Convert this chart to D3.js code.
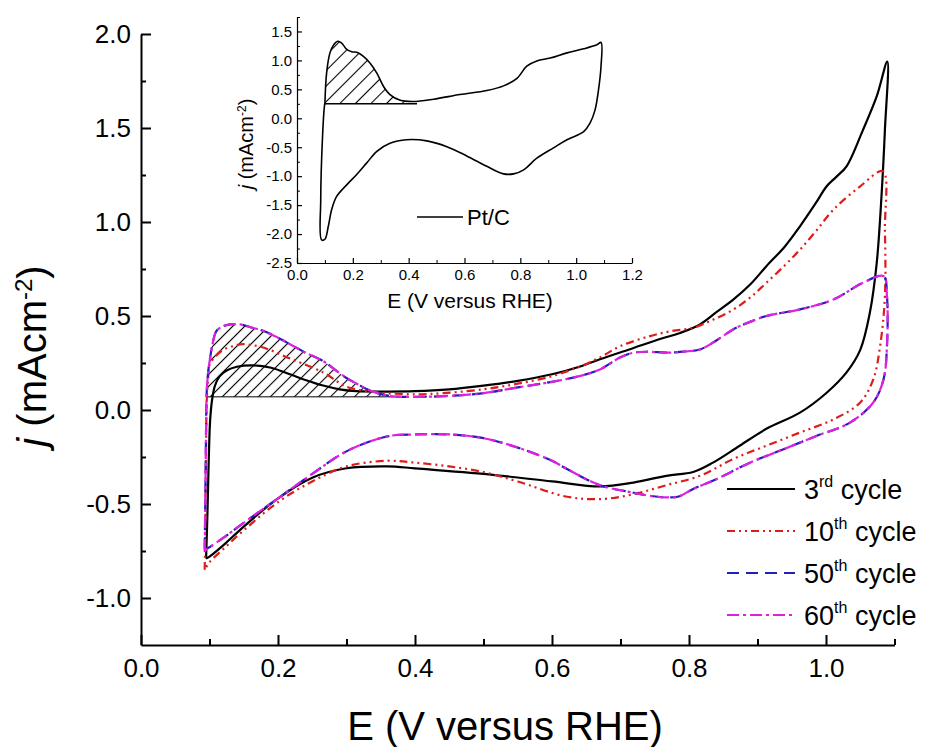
<!DOCTYPE html>
<html lang="en">
<head>
  <meta charset="UTF-8">
  <title>CV cycles</title>
  <script src="https://d3js.org/d3.v7.min.js"></script>
  <style>
    body { margin: 0; background: #fff; }
    text { font-family: "Liberation Sans", Arial, sans-serif; fill: #000; }
  </style>
</head>
<body>
<script>
  // E (V vs RHE), j (mA cm-2) pairs
  const cycle3 = [[0.095,-0.79],[0.097,-0.55],[0.099,-0.25],[0.101,-0.05],[0.104,0.06],[0.108,0.13],[0.115,0.18],[0.125,0.21],[0.14,0.23],[0.164,0.237],[0.19,0.225],[0.2175,0.19],[0.24,0.16],[0.266,0.13],[0.29,0.11],[0.315,0.10],[0.36,0.098],[0.4,0.10],[0.45,0.11],[0.5,0.13],[0.55,0.155],[0.6,0.19],[0.64,0.23],[0.67,0.27],[0.719,0.33],[0.76,0.38],[0.787,0.41],[0.816,0.455],[0.84,0.52],[0.865,0.588],[0.89,0.67],[0.913,0.765],[0.94,0.87],[0.962,0.977],[0.985,1.10],[1.001,1.19],[1.015,1.24],[1.03,1.296],[1.054,1.49],[1.074,1.668],[1.0895,1.853],[1.086,1.49],[1.081,1.137],[1.074,0.78],[1.064,0.517],[1.05,0.32],[1.03,0.20],[1.001,0.092],[0.962,-0.014],[0.913,-0.10],[0.874,-0.19],[0.835,-0.28],[0.806,-0.33],[0.767,-0.35],[0.719,-0.386],[0.67,-0.407],[0.6,-0.38],[0.5,-0.34],[0.4,-0.31],[0.36,-0.30],[0.3,-0.31],[0.25,-0.36],[0.2,-0.47],[0.15,-0.62],[0.12,-0.72],[0.1,-0.78],[0.095,-0.79]];
  const cycle10 = [[0.093,-0.85],[0.094,-0.55],[0.095,-0.2],[0.096,0.05],[0.098,0.17],[0.1,0.24],[0.11,0.29],[0.12,0.32],[0.135,0.34],[0.149,0.35],[0.17,0.34],[0.188,0.32],[0.21,0.285],[0.227,0.26],[0.266,0.20],[0.30,0.124],[0.339,0.096],[0.38,0.085],[0.42,0.085],[0.5,0.11],[0.55,0.14],[0.6,0.18],[0.64,0.23],[0.67,0.28],[0.7,0.34],[0.743,0.393],[0.775,0.42],[0.806,0.437],[0.835,0.48],[0.865,0.535],[0.89,0.60],[0.913,0.677],[0.94,0.77],[0.962,0.853],[0.985,0.95],[1.011,1.066],[1.05,1.19],[1.083,1.27],[1.086,0.96],[1.086,0.605],[1.079,0.34],[1.069,0.163],[1.05,0.04],[1.011,-0.05],[0.962,-0.12],[0.913,-0.19],[0.865,-0.26],[0.816,-0.35],[0.767,-0.40],[0.719,-0.448],[0.67,-0.474],[0.62,-0.46],[0.55,-0.38],[0.5,-0.33],[0.45,-0.30],[0.4,-0.28],[0.36,-0.27],[0.3,-0.30],[0.25,-0.38],[0.2,-0.49],[0.15,-0.64],[0.12,-0.74],[0.1,-0.81],[0.093,-0.85]];
  const cycle50 = [[0.093,-0.74],[0.094,-0.45],[0.095,-0.1],[0.096,0.1],[0.098,0.2],[0.101,0.28],[0.105,0.36],[0.11,0.42],[0.12,0.445],[0.13,0.455],[0.145,0.455],[0.16,0.44],[0.179,0.42],[0.2,0.385],[0.2175,0.35],[0.24,0.305],[0.266,0.26],[0.285,0.21],[0.30,0.17],[0.315,0.14],[0.33,0.11],[0.345,0.09],[0.364,0.074],[0.4,0.07],[0.45,0.075],[0.5,0.09],[0.55,0.12],[0.6,0.15],[0.64,0.18],[0.67,0.216],[0.7,0.28],[0.719,0.305],[0.74,0.31],[0.767,0.305],[0.79,0.31],[0.816,0.322],[0.84,0.37],[0.865,0.43],[0.89,0.47],[0.913,0.50],[0.962,0.535],[1.011,0.588],[1.054,0.677],[1.084,0.712],[1.089,0.605],[1.089,0.34],[1.084,0.163],[1.069,0.04],[1.035,-0.067],[0.986,-0.138],[0.938,-0.209],[0.889,-0.28],[0.84,-0.368],[0.806,-0.42],[0.785,-0.46],[0.767,-0.465],[0.74,-0.455],[0.719,-0.44],[0.67,-0.40],[0.62,-0.31],[0.6,-0.27],[0.55,-0.2],[0.5,-0.15],[0.45,-0.13],[0.4,-0.13],[0.36,-0.14],[0.3,-0.22],[0.25,-0.34],[0.2,-0.47],[0.15,-0.60],[0.12,-0.68],[0.1,-0.73],[0.093,-0.74]];
  const cycle60 = [[0.093,-0.75],[0.094,-0.45],[0.095,-0.1],[0.096,0.1],[0.098,0.2],[0.101,0.28],[0.105,0.36],[0.11,0.42],[0.12,0.445],[0.13,0.455],[0.145,0.455],[0.16,0.44],[0.179,0.42],[0.2,0.385],[0.2175,0.35],[0.24,0.305],[0.266,0.26],[0.285,0.21],[0.30,0.17],[0.315,0.14],[0.33,0.11],[0.345,0.09],[0.364,0.074],[0.4,0.07],[0.45,0.075],[0.5,0.09],[0.55,0.12],[0.6,0.15],[0.64,0.18],[0.67,0.216],[0.7,0.28],[0.719,0.305],[0.74,0.31],[0.767,0.305],[0.79,0.31],[0.816,0.322],[0.84,0.37],[0.865,0.43],[0.89,0.47],[0.913,0.50],[0.962,0.535],[1.011,0.588],[1.054,0.677],[1.084,0.712],[1.089,0.605],[1.089,0.34],[1.084,0.163],[1.069,0.04],[1.035,-0.067],[0.986,-0.138],[0.938,-0.209],[0.889,-0.28],[0.84,-0.368],[0.806,-0.42],[0.785,-0.46],[0.767,-0.465],[0.74,-0.455],[0.719,-0.44],[0.67,-0.40],[0.62,-0.31],[0.6,-0.27],[0.55,-0.2],[0.5,-0.15],[0.45,-0.13],[0.4,-0.13],[0.36,-0.14],[0.3,-0.22],[0.25,-0.34],[0.2,-0.47],[0.15,-0.60],[0.12,-0.68],[0.1,-0.73],[0.093,-0.75]];
  // inset: Pt/C
  const ptc = [[0.1,0.26],[0.106,0.78],[0.118,1.13],[0.13,1.26],[0.146,1.33],[0.16,1.30],[0.178,1.19],[0.196,1.15],[0.214,1.14],[0.238,1.07],[0.262,0.95],[0.286,0.78],[0.31,0.55],[0.333,0.41],[0.37,0.31],[0.417,0.29],[0.489,0.33],[0.584,0.41],[0.68,0.48],[0.74,0.56],[0.788,0.69],[0.823,0.90],[0.859,0.99],[0.907,1.04],[0.967,1.13],[1.027,1.20],[1.074,1.27],[1.089,1.31],[1.089,0.90],[1.08,0.49],[1.068,0.15],[1.05,-0.08],[1.027,-0.23],[0.967,-0.37],[0.919,-0.51],[0.859,-0.69],[0.812,-0.89],[0.776,-0.96],[0.74,-0.96],[0.68,-0.83],[0.608,-0.65],[0.537,-0.49],[0.465,-0.39],[0.393,-0.37],[0.333,-0.43],[0.286,-0.57],[0.25,-0.77],[0.214,-0.97],[0.178,-1.15],[0.142,-1.35],[0.124,-1.58],[0.112,-1.87],[0.10,-2.09],[0.088,-2.10],[0.085,-1.41],[0.092,-0.26],[0.098,0.2],[0.1,0.26]];

  const mainYTicks = [-1.0, -0.5, 0.0, 0.5, 1.0, 1.5, 2.0];
  const mainXTicks = [0.0, 0.2, 0.4, 0.6, 0.8, 1.0];
  const insetYTicks = [-2.5, -2.0, -1.5, -1.0, -0.5, 0.0, 0.5, 1.0, 1.5];
  const insetXTicks = [0.0, 0.2, 0.4, 0.6, 0.8, 1.0, 1.2];

  const series = [
    { name: "3", sup: "rd", data: cycle3, color: "#000000", dash: null },
    { name: "10", sup: "th", data: cycle10, color: "#dd1c1c", dash: "8,4,2,4,2,4" },
    { name: "50", sup: "th", data: cycle50, color: "#2020b8", dash: "12,7" },
    { name: "60", sup: "th", data: cycle60, color: "#e020e0", dash: "12,4,3,4" }
  ];

  const W = 935, H = 747;
  const svg = d3.select("body").append("svg").attr("width", W).attr("height", H);
  const fmt = d => d.toFixed(1);

  const defs = svg.append("defs");
  function hatchPattern(id, gap) {
    const p = defs.append("pattern").attr("id", id)
      .attr("patternUnits", "userSpaceOnUse")
      .attr("width", gap).attr("height", gap)
      .attr("patternTransform", "rotate(45)");
    p.append("line").attr("x1", gap / 2).attr("x2", gap / 2)
      .attr("y1", 0).attr("y2", gap)
      .attr("stroke", "#000").attr("stroke-width", 1.1);
  }
  hatchPattern("hatchMain", 8.5);
  hatchPattern("hatchInset", 11);

  // region under the anodic peak, above a flat base line
  function hatchPoly(data, base, end) {
    const pts = [];
    const top = d3.maxIndex(data, d => d[0]);
    for (let i = 0; i < top; i++) {
      const d = data[i];
      if (d[1] >= base && d[0] <= end) pts.push(d);
    }
    return [[pts[0][0], base], ...pts, [end, base]];
  }

  // ---------- main chart ----------
  const x = d3.scaleLinear().domain([0, 1.1]).range([141, 894.5]);
  const y = d3.scaleLinear().domain([-1.25, 2.0]).range([645, 34]);

  const line = d3.line().x(d => x(d[0])).y(d => y(d[1])).curve(d3.curveCatmullRom.alpha(0.5));

  const hpMain = hatchPoly(cycle50, 0.07, 0.37);
  svg.append("path").attr("d", line(hpMain) + "Z")
    .attr("fill", "url(#hatchMain)").attr("stroke", "none");
  svg.append("line")
    .attr("x1", x(hpMain[0][0])).attr("x2", x(0.37))
    .attr("y1", y(0.07)).attr("y2", y(0.07))
    .attr("stroke", "#000").attr("stroke-width", 1);

  series.forEach(s => {
    svg.append("path").attr("d", line(s.data))
      .attr("fill", "none").attr("stroke", s.color)
      .attr("stroke-width", 2.2)
      .attr("stroke-dasharray", s.dash);
  });

  // axes, ticks inward
  const yAxis = svg.append("g").attr("transform", "translate(" + x(0) + ",0)")
    .call(d3.axisLeft(y).tickValues(mainYTicks).tickFormat(fmt).tickSizeInner(-10).tickSizeOuter(0).tickPadding(10));
  svg.append("g").attr("transform", "translate(" + x(0) + ",0)")
    .call(d3.axisLeft(y).tickValues([-0.75, -0.25, 0.25, 0.75, 1.25, 1.75]).tickFormat("").tickSizeInner(-5).tickSizeOuter(0))
    .select(".domain").remove();
  const xAxis = svg.append("g").attr("transform", "translate(0," + y(-1.25) + ")")
    .call(d3.axisBottom(x).tickValues(mainXTicks).tickFormat(fmt).tickSizeInner(-10).tickSizeOuter(0).tickPadding(14));
  svg.append("g").attr("transform", "translate(0," + y(-1.25) + ")")
    .call(d3.axisBottom(x).tickValues([0.1, 0.3, 0.5, 0.7, 0.9, 1.1]).tickFormat("").tickSizeInner(-6).tickSizeOuter(0))
    .select(".domain").remove();

  svg.selectAll(".domain, .tick line").attr("stroke", "#000").attr("stroke-width", 2);
  [yAxis, xAxis].forEach(a => a.selectAll("text")
    .style("font-family", "'Liberation Sans', Arial, sans-serif")
    .style("font-size", "26px").attr("fill", "#000"));

  svg.append("text").attr("x", 505).attr("y", 740)
    .style("text-anchor", "middle").style("font-size", "40px")
    .text("E (V versus RHE)");

  const yt = svg.append("text")
    .attr("transform", "translate(46,356) rotate(-90)")
    .style("text-anchor", "middle").style("font-size", "40px");
  yt.append("tspan").style("font-style", "italic").text("j");
  yt.append("tspan").text(" (mAcm");
  yt.append("tspan").attr("dy", -14).style("font-size", "24px").text("-2");
  yt.append("tspan").attr("dy", 14).text(")");

  // legend
  const leg = svg.append("g");
  series.forEach((s, i) => {
    const ly = 489 + i * 42;
    leg.append("line").attr("x1", 727).attr("x2", 795)
      .attr("y1", ly).attr("y2", ly)
      .attr("stroke", s.color).attr("stroke-width", 2.2)
      .attr("stroke-dasharray", s.dash);
    const t = leg.append("text").attr("x", 804).attr("y", ly + 10)
      .style("font-size", "27px");
    t.append("tspan").text(s.name);
    t.append("tspan").attr("dy", -12).style("font-size", "16px").text(s.sup);
    t.append("tspan").attr("dy", 12).text(" cycle");
  });

  // ---------- inset ----------
  const ix = d3.scaleLinear().domain([0, 1.2]).range([297, 632]);
  const iy = d3.scaleLinear().domain([-2.5, 1.75]).range([263, 17]);
  const iline = d3.line().x(d => ix(d[0])).y(d => iy(d[1])).curve(d3.curveCatmullRom.alpha(0.5));

  const hpInset = hatchPoly(ptc, 0.25, 0.43);
  svg.append("path").attr("d", iline(hpInset) + "Z")
    .attr("fill", "url(#hatchInset)").attr("stroke", "none");
  svg.append("line")
    .attr("x1", ix(0.1)).attr("x2", ix(0.43))
    .attr("y1", iy(0.25)).attr("y2", iy(0.25))
    .attr("stroke", "#000").attr("stroke-width", 1.5);
  svg.append("path").attr("d", iline(ptc))
    .attr("fill", "none").attr("stroke", "#000").attr("stroke-width", 1.6);

  const iyAxis = svg.append("g").attr("transform", "translate(" + ix(0) + ",0)")
    .call(d3.axisLeft(iy).tickValues(insetYTicks).tickFormat(fmt).tickSizeInner(-5).tickSizeOuter(0).tickPadding(5));
  svg.append("g").attr("transform", "translate(" + ix(0) + ",0)")
    .call(d3.axisLeft(iy).tickValues(d3.range(-2.25, 1.76, 0.5)).tickFormat("").tickSizeInner(-3).tickSizeOuter(0))
    .select(".domain").remove();
  const ixAxis = svg.append("g").attr("transform", "translate(0," + iy(-2.5) + ")")
    .call(d3.axisBottom(ix).tickValues(insetXTicks).tickFormat(fmt).tickSizeInner(-5).tickSizeOuter(0).tickPadding(6));
  svg.append("g").attr("transform", "translate(0," + iy(-2.5) + ")")
    .call(d3.axisBottom(ix).tickValues(d3.range(0.1, 1.2, 0.2)).tickFormat("").tickSizeInner(-3).tickSizeOuter(0))
    .select(".domain").remove();
  [iyAxis, ixAxis].forEach(a => {
    a.selectAll(".domain, .tick line").attr("stroke", "#000").attr("stroke-width", 1.2);
    a.selectAll("text").style("font-family", "'Liberation Sans', Arial, sans-serif")
      .style("font-size", "15px").attr("fill", "#000");
  });

  svg.append("text").attr("x", 470).attr("y", 308)
    .style("text-anchor", "middle").style("font-size", "21px")
    .text("E (V versus RHE)");
  const iyt = svg.append("text")
    .attr("transform", "translate(253,144) rotate(-90)")
    .style("text-anchor", "middle").style("font-size", "20px");
  iyt.append("tspan").style("font-style", "italic").text("j");
  iyt.append("tspan").text(" (mAcm");
  iyt.append("tspan").attr("dy", -7).style("font-size", "12px").text("-2");
  iyt.append("tspan").attr("dy", 7).text(")");

  svg.append("line").attr("x1", 417).attr("x2", 463)
    .attr("y1", 217).attr("y2", 217)
    .attr("stroke", "#000").attr("stroke-width", 1.6);
  svg.append("text").attr("x", 467).attr("y", 225)
    .style("font-size", "22px").text("Pt/C");
</script>
</body>
</html>
